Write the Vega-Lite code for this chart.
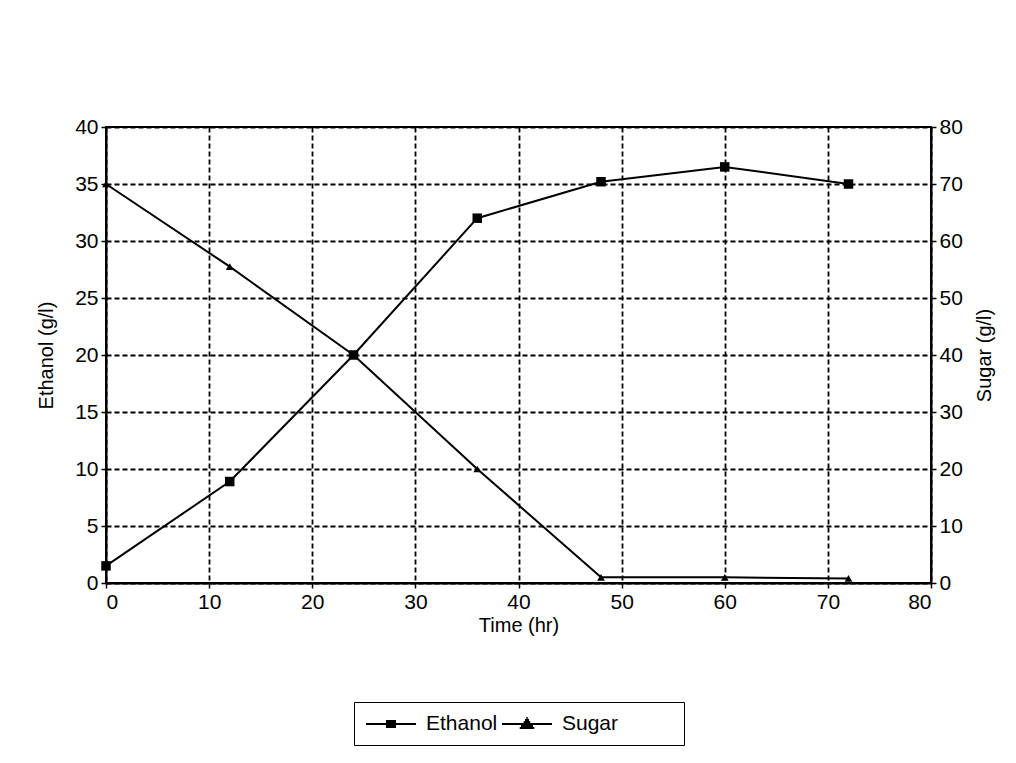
{
  "$schema": "https://vega.github.io/schema/vega-lite/v6.json",
  "width": 825,
  "height": 456,
  "autosize": {"type": "none"},
  "padding": {"left": 106, "top": 127, "right": 85, "bottom": 180},
  "background": "white",
  "config": {
    "font": "Liberation Sans",
    "view": {"stroke": "black", "strokeWidth": 2},
    "axis": {
      "labelFontSize": 21,
      "labelColor": "black",
      "titleFontSize": 20,
      "titleFontWeight": "normal",
      "titleColor": "black",
      "tickColor": "black",
      "tickSize": 5,
      "tickWidth": 1.5,
      "domainColor": "black",
      "domainWidth": 2,
      "gridColor": "black",
      "gridOpacity": 1,
      "gridWidth": 1.8,
      "gridDash": [5, 3],
      "labelPadding": 3
    },
    "legend": {
      "labelFontSize": 21,
      "labelColor": "black"
    }
  },
  "data": {
    "values": [
      {"time": 0, "ethanol": 1.5, "sugar": 70},
      {"time": 12, "ethanol": 8.9, "sugar": 55.5},
      {"time": 24, "ethanol": 20, "sugar": 40},
      {"time": 36, "ethanol": 32, "sugar": 20},
      {"time": 48, "ethanol": 35.2, "sugar": 1},
      {"time": 60, "ethanol": 36.5, "sugar": 1},
      {"time": 72, "ethanol": 35, "sugar": 0.8}
    ]
  },
  "encoding": {
    "x": {
      "field": "time",
      "type": "quantitative",
      "scale": {"domain": [0, 80], "nice": false},
      "axis": {
        "values": [0, 10, 20, 30, 40, 50, 60, 70, 80],
        "title": "Time (hr)",
        "grid": true,
        "titlePadding": 3
      }
    }
  },
  "layer": [
    {
      "encoding": {
        "y": {
          "field": "ethanol",
          "type": "quantitative",
          "scale": {"domain": [0, 40], "nice": false},
          "axis": {
            "orient": "left",
            "values": [0, 5, 10, 15, 20, 25, 30, 35, 40],
            "title": "Ethanol (g/l)",
            "grid": true,
            "titlePadding": 18
          }
        }
      },
      "layer": [
        {"mark": {"type": "line", "color": "black", "strokeWidth": 2}},
        {"mark": {"type": "point", "shape": "square", "filled": true, "color": "black", "opacity": 1, "size": 90}},
        {
          "transform": [{"filter": "false"}],
          "mark": {"type": "point", "filled": false, "color": "black", "opacity": 1, "strokeWidth": 2},
          "encoding": {
            "shape": {
              "datum": "Ethanol",
              "type": "nominal",
              "scale": {
                "domain": ["Ethanol", "Sugar"],
                "range": [
                  "M-2.5,0H2.5M-0.5,-0.3H0.5M-0.5,-0.1H0.5M-0.5,0.1H0.5M-0.5,0.3H0.5",
                  "M-2.5,0H2.5M-0.07,-0.6H0.07M-0.2,-0.4H0.2M-0.33,-0.2H0.33M-0.6,0.2H0.6M-0.73,0.4H0.73"
                ]
              },
              "legend": {
                "title": " ",
                "titleOrient": "right",
                "titlePadding": 55,
                "titleFontSize": 10,
                "orient": "none",
                "legendX": 248,
                "legendY": 575,
                "direction": "horizontal",
                "strokeColor": "black",
                "padding": 11,
                "fillColor": "white",
                "symbolSize": 400,
                "symbolOffset": 15,
                "symbolStrokeColor": "black",
                "symbolStrokeWidth": 2,
                "labelOffset": 24,
                "columnPadding": 0
              }
            }
          }
        }
      ]
    },
    {
      "encoding": {
        "y": {
          "field": "sugar",
          "type": "quantitative",
          "scale": {"domain": [0, 80], "nice": false},
          "axis": {
            "orient": "right",
            "values": [0, 10, 20, 30, 40, 50, 60, 70, 80],
            "title": "Sugar (g/l)",
            "titleAngle": -90,
            "titleBaseline": "top",
            "grid": false,
            "titlePadding": 12
          }
        }
      },
      "layer": [
        {"mark": {"type": "line", "color": "black", "strokeWidth": 2}},
        {"mark": {"type": "point", "shape": "triangle-up", "filled": true, "color": "black", "opacity": 1, "size": 60}}
      ]
    }
  ],
  "resolve": {"scale": {"y": "independent"}}
}
